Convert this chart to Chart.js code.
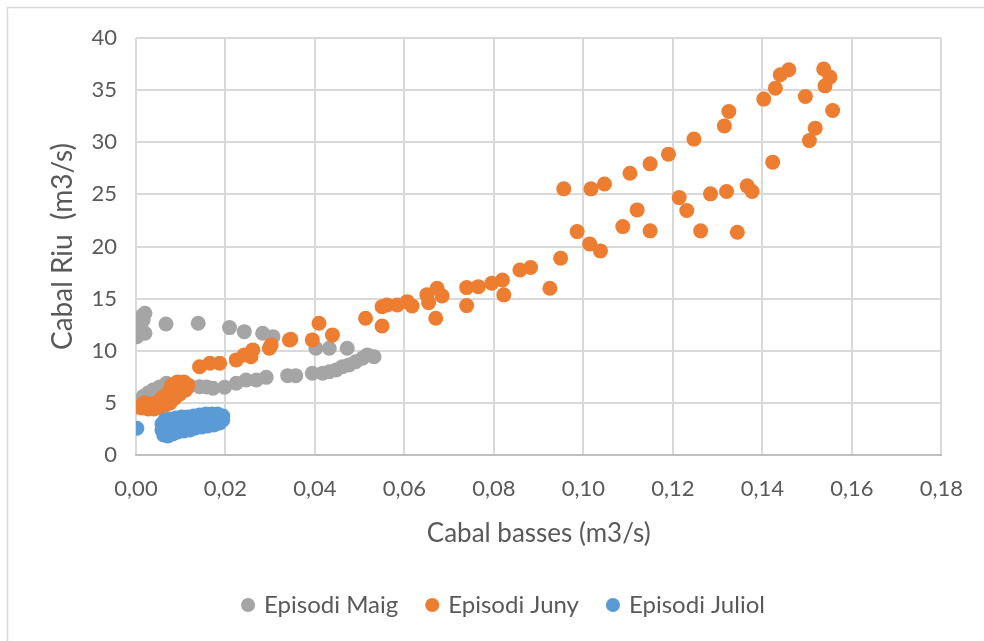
<!DOCTYPE html>
<html>
<head>
<meta charset="utf-8">
<script src="https://cdn.jsdelivr.net/npm/chart.js@4/dist/chart.umd.min.js"></script>
<style>
  html, body { margin: 0; padding: 0; background: #ffffff; }
  #wrap { width: 984px; height: 641px; position: relative; }
</style>
</head>
<body>
<div id="wrap"><canvas id="c" width="984" height="641"></canvas></div>
<script>
// Series names
const seriesNames = ['Episodi Maig', 'Episodi Juny', 'Episodi Juliol'];

// Episodi Maig: cabal basses (x) and cabal riu (y)
const maigX = [0.0002, 0.0009, 0.0016, 0.0020, 0.0020, 0.0013, 0.0011, 0.0067, 0.0139, 0.0209, 0.0242, 0.0283, 0.0306, 0.0402, 0.0432, 0.0472,
  0.0016, 0.0027, 0.0038, 0.0053, 0.0068, 0.0087, 0.0102, 0.0120, 0.0142, 0.0158, 0.0172, 0.0198, 0.0224, 0.0246, 0.0269, 0.0291,
  0.0339, 0.0357, 0.0394, 0.0417, 0.0432, 0.0447, 0.0461, 0.0476, 0.0491, 0.0506, 0.0517, 0.0532];
const maigY = [11.35, 12.31, 12.96, 13.60, 11.68, 13.34, 12.00, 12.57, 12.64, 12.22, 11.83, 11.68, 11.35, 10.24, 10.24, 10.24,
  5.60, 5.95, 6.24, 6.53, 6.88, 6.62, 6.62, 6.62, 6.55, 6.53, 6.40, 6.50, 6.88, 7.20, 7.20, 7.45,
  7.61, 7.61, 7.84, 7.84, 7.99, 8.16, 8.47, 8.64, 8.95, 9.28, 9.60, 9.43];

// Episodi Juny
const junyX = [0.0002, 0.0013, 0.0027, 0.0040, 0.0053, 0.0065, 0.0071, 0.0067, 0.0076, 0.0080, 0.0093, 0.0107, 0.0116, 0.0111, 0.0098, 0.0087,
  0.0076, 0.0049, 0.0031, 0.0018, 0.0089, 0.0102, 0.0058,
  0.0142, 0.0165, 0.0187, 0.0224, 0.0242, 0.0257, 0.0261, 0.0298, 0.0302, 0.0343, 0.0346, 0.0394, 0.0409, 0.0439, 0.0513, 0.0550,
  0.0550, 0.0561, 0.0584, 0.0606, 0.0617, 0.0650, 0.0654, 0.0670, 0.0673, 0.0684, 0.0739, 0.0739, 0.0765, 0.0795, 0.0819, 0.0822,
  0.0858, 0.0882, 0.0925, 0.0949, 0.0956, 0.0986, 0.1014, 0.1017, 0.1038, 0.1047,
  0.1459, 0.1440, 0.1429, 0.1403, 0.1496, 0.1537, 0.1551, 0.1540, 0.1557, 0.1518, 0.1505, 0.1423, 0.1325, 0.1315, 0.1247, 0.1190,
  0.1149, 0.1104, 0.1214, 0.1231, 0.1284, 0.1320, 0.1366, 0.1377, 0.1120, 0.1088, 0.1149, 0.1262, 0.1344];
const junyY = [4.61, 4.51, 4.41, 4.41, 4.51, 4.80, 5.28, 5.76, 6.24, 6.72, 7.01, 7.01, 6.72, 6.24, 5.85, 5.47,
  4.99, 5.09, 4.89, 4.99, 6.43, 6.43, 5.47,
  8.47, 8.80, 8.80, 9.12, 9.60, 9.43, 10.08, 10.24, 10.56, 11.04, 11.10, 11.04, 12.64, 11.52, 13.12, 12.38,
  14.23, 14.40, 14.40, 14.71, 14.30, 15.36, 14.62, 13.12, 16.00, 15.26, 16.06, 14.33, 16.15, 16.47, 16.79, 15.36,
  17.75, 17.98, 16.00, 18.88, 25.53, 21.43, 20.25, 25.53, 19.58, 26.00,
  36.95, 36.47, 35.19, 34.14, 34.39, 37.02, 36.25, 35.41, 33.04, 31.35, 30.16, 28.09, 32.95, 31.57, 30.30, 28.86,
  27.93, 27.03, 24.69, 23.45, 25.05, 25.27, 25.82, 25.27, 23.51, 21.91, 21.50, 21.50, 21.37];

// Episodi Juliol
const juliolX = [0.0002, 0.0058, 0.0058, 0.0062, 0.0071, 0.0082, 0.0093, 0.0107, 0.0120, 0.0133, 0.0147, 0.0160, 0.0174, 0.0187, 0.0194,
  0.0194, 0.0182, 0.0169, 0.0156, 0.0142, 0.0129, 0.0116, 0.0102, 0.0089, 0.0076, 0.0065, 0.0076, 0.0089, 0.0102, 0.0116, 0.0129,
  0.0142, 0.0156, 0.0169, 0.0182, 0.0071, 0.0087, 0.0105, 0.0120, 0.0138, 0.0156, 0.0174, 0.0060];
const juliolY = [2.56, 2.98, 2.40, 1.92, 1.82, 2.02, 2.21, 2.30, 2.40, 2.59, 2.69, 2.78, 2.88, 3.07, 3.36,
  3.74, 3.93, 3.93, 3.93, 3.84, 3.74, 3.65, 3.65, 3.55, 3.45, 3.36, 2.78, 2.88, 3.07, 3.17, 3.26,
  3.36, 3.45, 3.45, 3.55, 2.30, 2.50, 2.69, 2.88, 2.98, 3.17, 3.26, 2.69];

// Axis ranges and tick steps
const xMin = 0, xMax = 0.18, xStep = 0.02;
const yMin = 0, yMax = 40, yStep = 5;

const textColor = '#595959';
const gridColor = '#d9d9d9';
const colors = ['#a5a5a5', '#ed7d31', '#5b9bd5'];

const toPoints = (xs, ys) => xs.map((x, i) => ({ x: x, y: ys[i] }));

// Light frame around the whole chart
const framePlugin = {
  id: 'frame',
  beforeDraw(chart) {
    const ctx = chart.ctx;
    ctx.save();
    ctx.fillStyle = '#ffffff';
    ctx.fillRect(0, 0, chart.width, chart.height);
    ctx.strokeStyle = '#d9d9d9';
    ctx.lineWidth = 1.5;
    ctx.strokeRect(7.5, 7.5, 1000, 1000);
    ctx.restore();
  }
};

// Nudge the legend row to the right so it sits under the plot
const legendShift = {
  id: 'legendShift',
  afterLayout(chart) {
    const lg = chart.legend;
    if (lg) { lg.left += 22; lg.right += 22; }
  }
};

const makeSet = (i, xs, ys, order) => ({
  label: seriesNames[i],
  data: toPoints(xs, ys),
  backgroundColor: colors[i],
  borderColor: colors[i],
  borderWidth: 0,
  pointRadius: 7.5,
  pointHoverRadius: 7.5,
  order: order
});

new Chart(document.getElementById('c'), {
  type: 'scatter',
  data: {
    datasets: [
      makeSet(0, maigX, maigY, 3),
      makeSet(1, junyX, junyY, 2),
      makeSet(2, juliolX, juliolY, 1)
    ]
  },
  plugins: [framePlugin, legendShift],
  options: {
    responsive: false,
    animation: false,
    layout: { padding: { top: 38, left: 20, right: 39, bottom: 14 } },
    plugins: {
      tooltip: { enabled: false },
      legend: {
        position: 'bottom',
        labels: {
          usePointStyle: true,
          pointStyle: 'circle',
          boxWidth: 8,
          boxHeight: 10,
          padding: 30,
          color: textColor,
          font: { family: 'Lato', size: 24 },
          sort: (a, b) => a.datasetIndex - b.datasetIndex
        }
      }
    },
    scales: {
      x: {
        type: 'linear',
        min: xMin,
        max: xMax,
        afterFit(scale) { scale.height = 108; },
        ticks: {
          stepSize: xStep,
          color: textColor,
          padding: 21,
          maxRotation: 0,
          autoSkip: false,
          font: { family: 'Lato', size: 22 },
          callback: v => v.toFixed(2).replace('.', ',')
        },
        grid: { color: gridColor, lineWidth: 2, drawTicks: false },
        border: { color: '#bfbfbf', width: 2 },
        title: {
          display: true,
          text: 'Cabal basses (m3/s)',
          color: textColor,
          font: { family: 'Lato', size: 26 },
          padding: { top: 0, bottom: 14 }
        }
      },
      y: {
        type: 'linear',
        min: yMin,
        max: yMax,
        afterFit(scale) { scale.width = 116; },
        ticks: {
          stepSize: yStep,
          color: textColor,
          padding: 19,
          font: { family: 'Lato', size: 22 }
        },
        grid: { color: gridColor, lineWidth: 2, drawTicks: false },
        border: { display: false },
        title: {
          display: true,
          text: 'Cabal Riu  (m3/s)',
          color: textColor,
          font: { family: 'Lato', size: 28 },
          padding: { top: 26, bottom: 0 }
        }
      }
    }
  }
});
</script>
</body>
</html>
